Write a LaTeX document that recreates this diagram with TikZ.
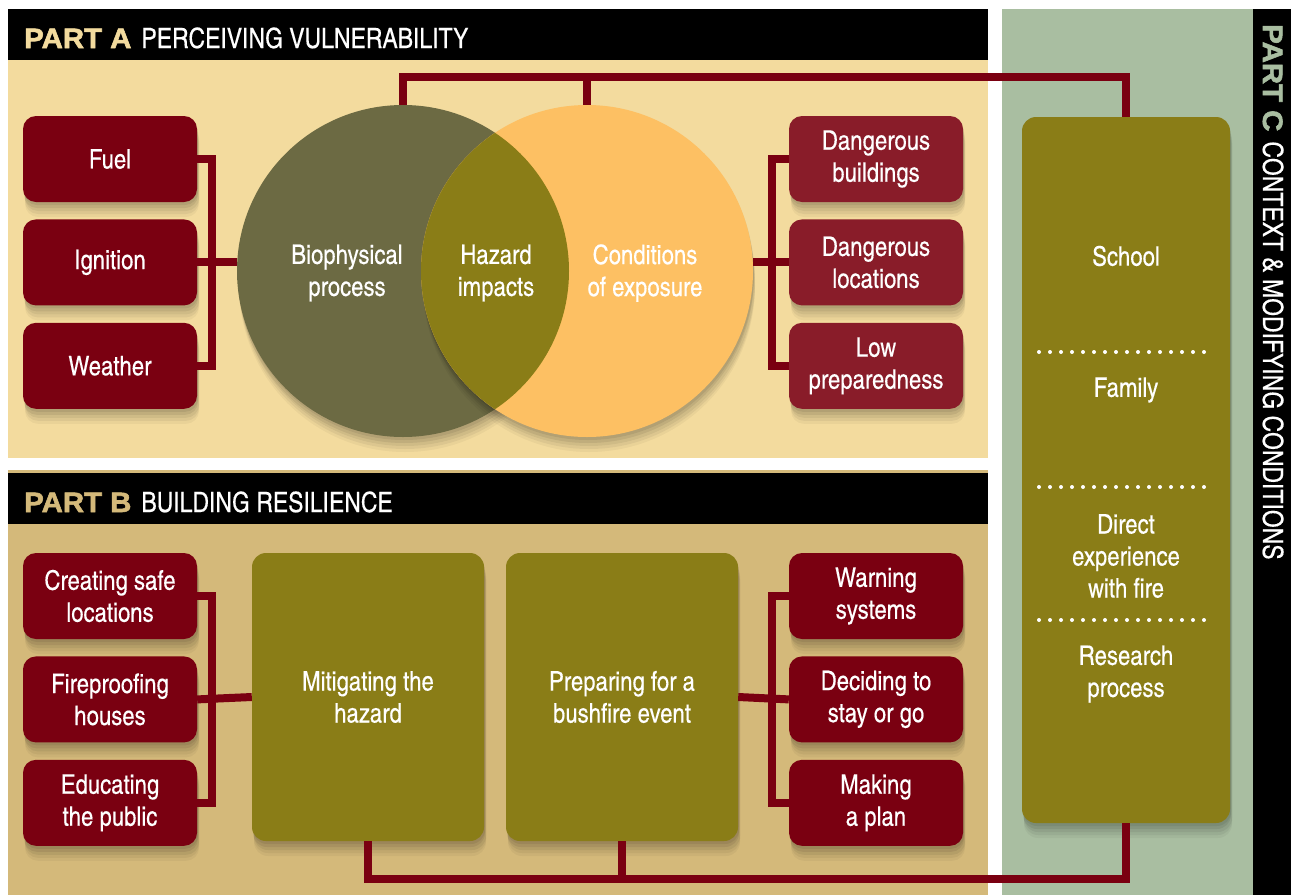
\documentclass[tikz,border=0pt]{standalone}
\usepackage{fontspec}
\setmainfont{texgyreheroscn}[Extension=.otf, UprightFont=*-regular, BoldFont=*-bold, FakeBold=0.3]
\newfontfamily\heavyfont{Liberation Sans}[UprightFont=* Bold, FakeBold=2, FakeStretch=1.05]
\usepackage{tikz}
\usetikzlibrary{positioning}
\definecolor{beigeA}{HTML}{F3DB9E}
\definecolor{tanB}{HTML}{D4B97A}
\definecolor{sageC}{HTML}{A9BEA1}
\definecolor{darkred}{HTML}{7A0011}
\definecolor{exposered}{HTML}{891C29}
\definecolor{olivebox}{HTML}{8A7D17}
\definecolor{biocircle}{HTML}{6C6A43}
\definecolor{venngold}{HTML}{FDC063}
\tikzstyle{boxtext}=[text=white, align=center, font=\fontsize{27}{32}\selectfont]
\tikzstyle{softshadow}=[
  preaction={fill=black, opacity=0.07, transform canvas={xshift=1pt, yshift=-3pt}},
  preaction={fill=black, opacity=0.07, transform canvas={xshift=1pt, yshift=-6pt}},
  preaction={fill=black, opacity=0.06, transform canvas={xshift=2pt, yshift=-9pt}},
  preaction={fill=black, opacity=0.05, transform canvas={xshift=2pt, yshift=-12pt}},
  preaction={fill=black, opacity=0.04, transform canvas={xshift=2pt, yshift=-15pt}}]
\tikzstyle{factor}=[rectangle, rounded corners=13pt, fill=darkred, minimum width=174pt, minimum height=86pt, inner sep=0pt, boxtext, softshadow]
\tikzstyle{action}=[rectangle, rounded corners=14pt, fill=olivebox, minimum width=232pt, minimum height=288pt, inner sep=0pt, boxtext, softshadow]
\tikzstyle{venn}=[circle, minimum size=332pt, inner sep=0pt, softshadow]
\tikzstyle{link}=[draw=darkred, line width=8pt]
\tikzstyle{title}=[anchor=base west, text=white, inner sep=0pt, font=\fontsize{28}{32}\selectfont]

\begin{document}
\begin{tikzpicture}[x=1pt, y=-1pt]
\useasboundingbox (0,0) rectangle (1291,895);
\fill[white] (0,0) rectangle (1291,895);
% panels
\fill[beigeA] (8,60) rectangle (988,458);
\fill[black] (8,9) rectangle (988,60);
\fill[tanB] (8,470) rectangle (988,895);
\fill[black] (8,473) rectangle (988,524);
\fill[sageC] (1002,9) rectangle (1253,895);
\fill[black] (1253,9) rectangle (1291,895);
\node[title] (titleA) at (24,48) {{\heavyfont\color{beigeA}PART A}\hspace{10pt}PERCEIVING VULNERABILITY};
\node[title] (titleB) at (24,512) {{\heavyfont\color{tanB}PART B}\hspace{10pt}BUILDING RESILIENCE};
\node[title, rotate=-90] (titleC) at (1263,24) {{\heavyfont\color{sageC}PART C}\hspace{10pt}CONTEXT \& MODIFYING CONDITIONS};

% part A
\node[factor] (fuel) at (110,159) {Fuel};
\node[factor, below=17pt of fuel] (ignition) {Ignition};
\node[factor, below=17pt of ignition] (weather) {Weather};
\node[factor, fill=exposered] (dbuild) at (876,159) {Dangerous\\buildings};
\node[factor, fill=exposered, below=17pt of dbuild] (dloc) {Dangerous\\locations};
\node[factor, fill=exposered, below=17pt of dloc] (lowprep) {Low\\preparedness};
\node[venn, fill=biocircle] (bio) at (403,271) {};
\node[venn, fill=venngold] (expo) at (587,271) {};
\begin{scope}
  \clip (bio.center) circle (166pt);
  \fill[olivebox] (expo.center) circle (166pt);
\end{scope}
\node[boxtext] (biotext) at (347,273) {Biophysical\\process};
\node[boxtext] (hazard) at (496,273) {Hazard\\impacts};
\node[boxtext] (expotext) at (645,273) {Conditions\\of exposure};

% part B
\node[factor] (create) at (110,596) {Creating safe\\locations};
\node[factor, below=17pt of create] (fireproof) {Fireproofing\\houses};
\node[factor, below=17pt of fireproof] (educate) {Educating\\the public};
\node[factor] (warning) at (876,596) {Warning\\systems};
\node[factor, below=17pt of warning] (decide) {Deciding to\\stay or go};
\node[factor, below=17pt of decide] (plan) {Making\\a plan};
\node[action] (mitigate) at (368,697) {Mitigating the\\hazard};
\node[action] (prepare) at (622,697) {Preparing for a\\bushfire event};

% part C
\node[rectangle, rounded corners=14pt, fill=olivebox, minimum width=208pt, minimum height=706pt, softshadow] (context) at (1126,470) {};
\foreach \sy in {352,487,620}
  \draw[white, line width=4pt, line cap=round, dash pattern=on 0pt off 11pt] (1039,\sy) -- (1214,\sy);
\node[boxtext] (school) at (1126,256) {School};
\node[boxtext] (family) at (1126,390) {Family};
\node[boxtext] (direct) at (1126,556) {Direct\\experience\\with fire};
\node[boxtext] (research) at (1126,674) {Research\\process};

% connectors
\coordinate (topline) at (0,77);
\coordinate (botline) at (0,879);
\draw[link] (fuel.east) -- ++(15,0) |- (weather.east);
\draw[link] (ignition.east) -- (ignition.east -| bio.west);
\draw[link] (dbuild.west) -- ++(-17,0) |- (lowprep.west);
\draw[link] (dloc.west) -- (dloc.west -| expo.east);
\draw[link] (bio.north) -- (bio.north |- topline) -| (context.north);
\draw[link] (expo.north) -- (expo.north |- topline);
\draw[link] (create.east) -- ++(15,0) |- (educate.east);
\draw[link] (fireproof.east) -- (mitigate.west);
\draw[link] (warning.west) -- ++(-17,0) |- (plan.west);
\draw[link] (decide.west) -- (prepare.east);
\draw[link] (mitigate.south) -- (mitigate.south |- botline) -| (context.south);
\draw[link] (prepare.south) -- (prepare.south |- botline);
\end{tikzpicture}
\end{document}
